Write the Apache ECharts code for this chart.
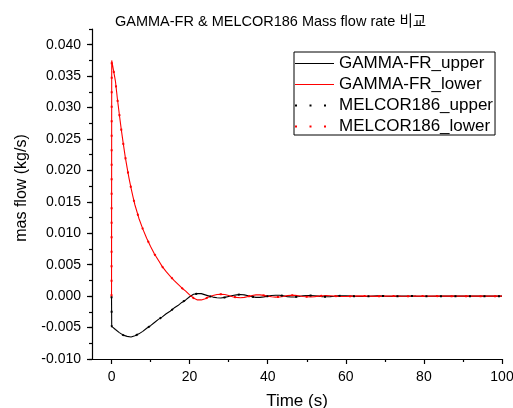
<!DOCTYPE html>
<html><head><meta charset="utf-8">
<script src="https://cdn.jsdelivr.net/npm/echarts@6/dist/echarts.min.js"></script>
<style>html,body{margin:0;padding:0;background:#fff}#c{width:513px;height:408px}</style>
</head><body><div id="c"></div>
<script>
var titleText = 'GAMMA-FR & MELCOR186 Mass flow rate 비교';
var xName = 'Time (s)';
var yName = 'mas flow (kg/s)';
var seriesNames = ['GAMMA-FR_upper', 'GAMMA-FR_lower', 'MELCOR186_upper', 'MELCOR186_lower'];
var xTickLabels = [0, 20, 40, 60, 80, 100];
var xMinorTicks = [10, 30, 50, 70, 90];
var yTickLabels = [-0.010, -0.005, 0.000, 0.005, 0.010, 0.015, 0.020, 0.025, 0.030, 0.035, 0.040];

var time = [0, 0.05, 0.4, 1, 1.5, 2, 2.5, 3, 3.5, 4, 4.5, 5, 5.5, 6, 7, 8, 9, 10, 11, 12, 13, 14, 15, 16, 17, 18, 19, 20,
  21, 22, 23, 24, 25, 26, 27, 28, 29, 30, 31, 32, 33, 34, 35, 36, 37, 38, 39, 40, 41, 42, 43, 44, 45, 46, 47, 48, 49, 50,
  51, 52, 53, 54, 55, 56, 57, 58, 59, 60, 62, 64, 66, 68, 70, 72, 74, 76, 78, 80, 85, 90, 95, 100];

var gammaUpper = [0, -0.0048, -0.0050, -0.0053, -0.0055, -0.0058, -0.0060, -0.0062, -0.0063, -0.0064, -0.0065, -0.0065, -0.0064, -0.0063,
  -0.0060, -0.0056, -0.0051, -0.0047, -0.0042, -0.0037, -0.0033, -0.0028, -0.0024, -0.0019, -0.0015, -0.0010, -0.0006, -0.0001,
  0.0003, 0.0004, 0.0004, 0.0002, 0.0000, -0.00015, -0.00025, -0.0003, -0.0002, -0.00005, 0.0001, 0.0002, 0.00025, 0.0002, 0.00005,
  -0.0001, -0.0002, -0.0002, -0.00012, 0.0000, 0.0001, 0.00015, 0.00014, 0.00005, -0.00008, -0.00014, -0.00013, -0.00005, 0.00005, 0.0001,
  0.00011, 0.00007, 0.0000, -0.00007, -0.00009, -0.00007, -0.00002, 0.00004, 0.00006, 0.00006, 0.0, -0.00005, -0.00001, 0.00004, 0.0,
  -0.00003, 0.0, 0.00002, 0.0, -0.00001, 0, 0, 0, 0];

var gammaLower = [0, 0.0375, 0.0373, 0.0342, 0.0314, 0.0289, 0.0265, 0.0243, 0.0222, 0.0204, 0.0187, 0.0172, 0.0158, 0.0145,
  0.0124, 0.0107, 0.0092, 0.0079, 0.0067, 0.0057, 0.0047, 0.0039, 0.0032, 0.0025, 0.0019, 0.0013, 0.0008, 0.0002,
  -0.0003, -0.0006, -0.0006, -0.0004, -0.0001, 0.0001, 0.00025, 0.0003, 0.00025, 0.0001, -0.0001, -0.0002, -0.00025, -0.0002, -0.00005,
  0.0001, 0.0002, 0.0002, 0.00012, 0.0000, -0.0001, -0.00015, -0.00014, -0.00005, 0.00008, 0.00014, 0.00013, 0.00005, -0.00005, -0.0001,
  -0.00011, -0.00007, 0.0000, 0.00007, 0.00009, 0.00007, 0.00002, -0.00004, -0.00006, -0.00006, 0.0, 0.00005, 0.00001, -0.00004, 0.0,
  0.00003, 0.0, -0.00002, 0.0, 0.00001, 0, 0, 0, 0];

var melcorUpper = [0, -0.0048, -0.0050, -0.0053, -0.0055, -0.0058, -0.0060, -0.0062, -0.0063, -0.0064, -0.0065, -0.0065, -0.0064, -0.0063,
  -0.0060, -0.0056, -0.0051, -0.0047, -0.0042, -0.0037, -0.0033, -0.0028, -0.0024, -0.0019, -0.0015, -0.0010, -0.0006, -0.0001,
  0.0003, 0.0004, 0.0004, 0.0002, 0.0000, -0.00015, -0.00025, -0.0003, -0.0002, -0.00005, 0.0001, 0.0002, 0.00025, 0.0002, 0.00005,
  -0.0001, -0.0002, -0.0002, -0.00012, 0.0000, 0.0001, 0.00015, 0.00014, 0.00005, -0.00008, -0.00014, -0.00013, -0.00005, 0.00005, 0.0001,
  0.00011, 0.00007, 0.0000, -0.00007, -0.00009, -0.00007, -0.00002, 0.00004, 0.00006, 0.00006, 0.0, -0.00005, -0.00001, 0.00004, 0.0,
  -0.00003, 0.0, 0.00002, 0.0, -0.00001, 0, 0, 0, 0];

var melcorLower = [0, 0.0375, 0.0373, 0.0342, 0.0314, 0.0289, 0.0265, 0.0243, 0.0222, 0.0204, 0.0187, 0.0172, 0.0158, 0.0145,
  0.0124, 0.0107, 0.0092, 0.0079, 0.0067, 0.0057, 0.0047, 0.0039, 0.0032, 0.0025, 0.0019, 0.0013, 0.0008, 0.0002,
  -0.0003, -0.0006, -0.0006, -0.0004, -0.0001, 0.0001, 0.00025, 0.0003, 0.00025, 0.0001, -0.0001, -0.0002, -0.00025, -0.0002, -0.00005,
  0.0001, 0.0002, 0.0002, 0.00012, 0.0000, -0.0001, -0.00015, -0.00014, -0.00005, 0.00008, 0.00014, 0.00013, 0.00005, -0.00005, -0.0001,
  -0.00011, -0.00007, 0.0000, 0.00007, 0.00009, 0.00007, 0.00002, -0.00004, -0.00006, -0.00006, 0.0, 0.00005, 0.00001, -0.00004, 0.0,
  0.00003, 0.0, -0.00002, 0.0, 0.00001, 0, 0, 0, 0];

function pairs(ts, vs) { return ts.map(function (t, i) { return [t, vs[i]]; }); }

var FONT = '"Liberation Sans", Arial, "Noto Sans CJK KR", sans-serif';
var chart = echarts.init(document.getElementById('c'), null, {renderer: 'canvas'});

function lineSeries(name, data, color, dotted) {
  return {
    name: name, type: 'line', data: data, symbol: 'none', showSymbol: false,
    xAxisIndex: 0, yAxisIndex: 0, animation: false, clip: true,
    lineStyle: dotted ? {color: color, width: 2, type: [2, 12.5], cap: 'butt'} : {color: color, width: 1.1},
    itemStyle: {color: color},
    emphasis: {disabled: true}
  };
}

chart.setOption({
  animation: false,
  backgroundColor: '#fff',
  title: {
    text: titleText, left: 115, top: 15, padding: 0,
    textStyle: {fontFamily: FONT, fontSize: 14.5, fontWeight: 'normal', color: '#000'}
  },
  legend: {
    orient: 'vertical', left: 294, top: 52,
    padding: [3, 2, 0, 0], itemGap: 4, itemWidth: 39, itemHeight: 14,
    borderColor: '#000', borderWidth: 1, backgroundColor: '#fff',
    itemStyle: {opacity: 0},
    textStyle: {fontFamily: FONT, fontSize: 17, color: '#000', lineHeight: 17},
    data: [
      {name: seriesNames[0], lineStyle: {width: 1}},
      {name: seriesNames[1], lineStyle: {width: 1}},
      {name: seriesNames[2]},
      {name: seriesNames[3]}
    ],
    selectedMode: false
  },
  grid: {left: 92, right: 11, top: 29, bottom: 49, containLabel: false, outerBoundsMode: 'none'},
  xAxis: [{
    type: 'value', min: -5, max: 100, position: 'bottom',
    name: xName, nameLocation: 'middle', nameGap: 34,
    nameTextStyle: {fontFamily: FONT, fontSize: 17, color: '#000'},
    axisLine: {show: true, onZero: false, lineStyle: {color: '#000', width: 1.2}},
    axisTick: {show: true, length: 5, customValues: xTickLabels, lineStyle: {color: '#000', width: 1.2}},
    axisLabel: {customValues: xTickLabels, margin: 11, fontFamily: FONT, fontSize: 14, color: '#000'},
    splitLine: {show: false}
  }, {
    type: 'value', min: -5, max: 100, position: 'bottom',
    axisLine: {show: false, onZero: false},
    axisTick: {show: true, length: 3, customValues: xMinorTicks, lineStyle: {color: '#000', width: 1.2}},
    axisLabel: {show: false},
    splitLine: {show: false}
  }],
  yAxis: [{
    type: 'value', min: -0.01, max: 0.0425, position: 'left',
    name: yName, nameLocation: 'middle', nameGap: 62, nameRotate: 90,
    nameTextStyle: {fontFamily: FONT, fontSize: 16, color: '#000', padding: [0, 0, 0, 12]},
    axisLine: {show: true, onZero: false, lineStyle: {color: '#000', width: 1.2}},
    axisTick: {show: true, length: 5, customValues: yTickLabels, lineStyle: {color: '#000', width: 1.2}},
    axisLabel: {customValues: yTickLabels, margin: 11, fontFamily: FONT, fontSize: 14, color: '#000',
      formatter: function (v) { return v.toFixed(3); }},
    splitLine: {show: false}
  }, {
    type: 'value', min: -0.01, max: 0.0425, interval: 0.0025, position: 'left',
    axisLine: {show: false, onZero: false},
    axisTick: {show: true, length: 3, lineStyle: {color: '#000', width: 1.2}},
    axisLabel: {show: false},
    splitLine: {show: false}
  }],
  series: [
    lineSeries(seriesNames[0], pairs(time, gammaUpper), '#000000', false),
    lineSeries(seriesNames[1], pairs(time, gammaLower), '#ff0000', false),
    lineSeries(seriesNames[2], pairs(time, melcorUpper), '#000000', true),
    lineSeries(seriesNames[3], pairs(time, melcorLower), '#ff0000', true)
  ]
});
</script>
</body></html>
